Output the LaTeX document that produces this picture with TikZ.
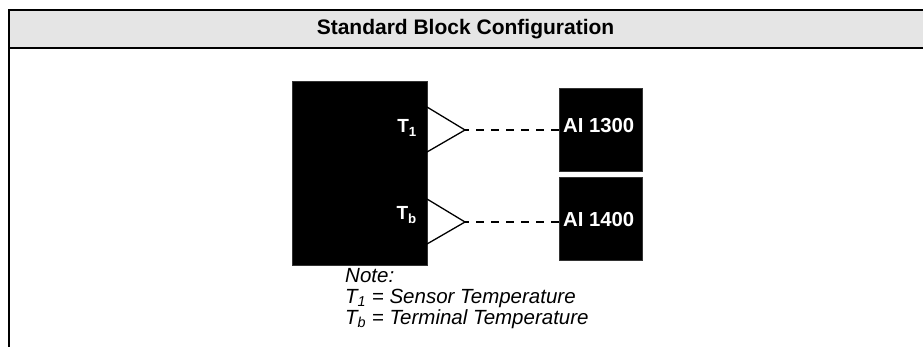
\documentclass[tikz,border=0pt]{standalone}
\usepackage{fontspec}
\setmainfont{Liberation Sans}
\begin{document}
\begin{tikzpicture}[x=1pt,y=-1pt,
  frame/.style={line width=2pt,black},
  blk/.style={fill=black,draw=black!80,line width=0.6pt},
  tlbl/.style={text=white,font=\bfseries\fontsize{19}{21}\selectfont,inner sep=0pt,anchor=base east},
  ailbl/.style={text=white,font=\bfseries\fontsize{20.3}{22}\selectfont,inner sep=0pt,anchor=base west},
  tri/.style={draw=black,line width=1.3pt,line join=miter},
  link/.style={draw=black,line width=1.4pt,dash pattern=on 8pt off 7pt,dash phase=4pt},
  note/.style={font=\itshape\fontsize{20.5}{23}\selectfont,anchor=base west,inner sep=0pt}]
\useasboundingbox (0,0) rectangle (923,347);
% header
\fill[black!10] (9,10) rectangle (923,48);
\draw[frame] (923,10) -- (9,10) -- (9,347);
\draw[frame] (9,48) -- (923,48);
\node[font=\bfseries\fontsize{21}{23}\selectfont,anchor=base,inner sep=0pt] (title) at (465.5,35) {Standard Block Configuration};
% main block
\path[blk] (292,81) rectangle (427,265);
\node[tlbl] (t1) at (417,133) {T\textsubscript{1}};
\node[tlbl] (tb) at (417,220) {T\textsubscript{b}};
% triangles
\coordinate (a1) at (465,130);
\coordinate (a2) at (465,222);
\draw[tri] (427,107) -- (a1) -- (427,152);
\draw[tri] (427,199) -- (a2) -- (427,244);
% AI boxes
\path[blk] (559,88) rectangle (642,171);
\path[blk] (559,177) rectangle (642,260);
\node[ailbl] (ai1) at (563,133) {AI 1300};
\node[ailbl] (ai2) at (563,227) {AI 1400};
\coordinate (b1) at (559,130);
\coordinate (b2) at (559,222);
\draw[link] (a1) -- (b1);
\draw[link] (a2) -- (b2);
% note
\node[note] (n0) at (345,282) {Note:};
\node[note] (n1) at (345,303) {\textit{T}\textsubscript{\textit{1}} = Sensor Temperature};
\node[note] (n2) at (345,324) {\textit{T}\textsubscript{\textit{b}} = Terminal Temperature};
\end{tikzpicture}
\end{document}
